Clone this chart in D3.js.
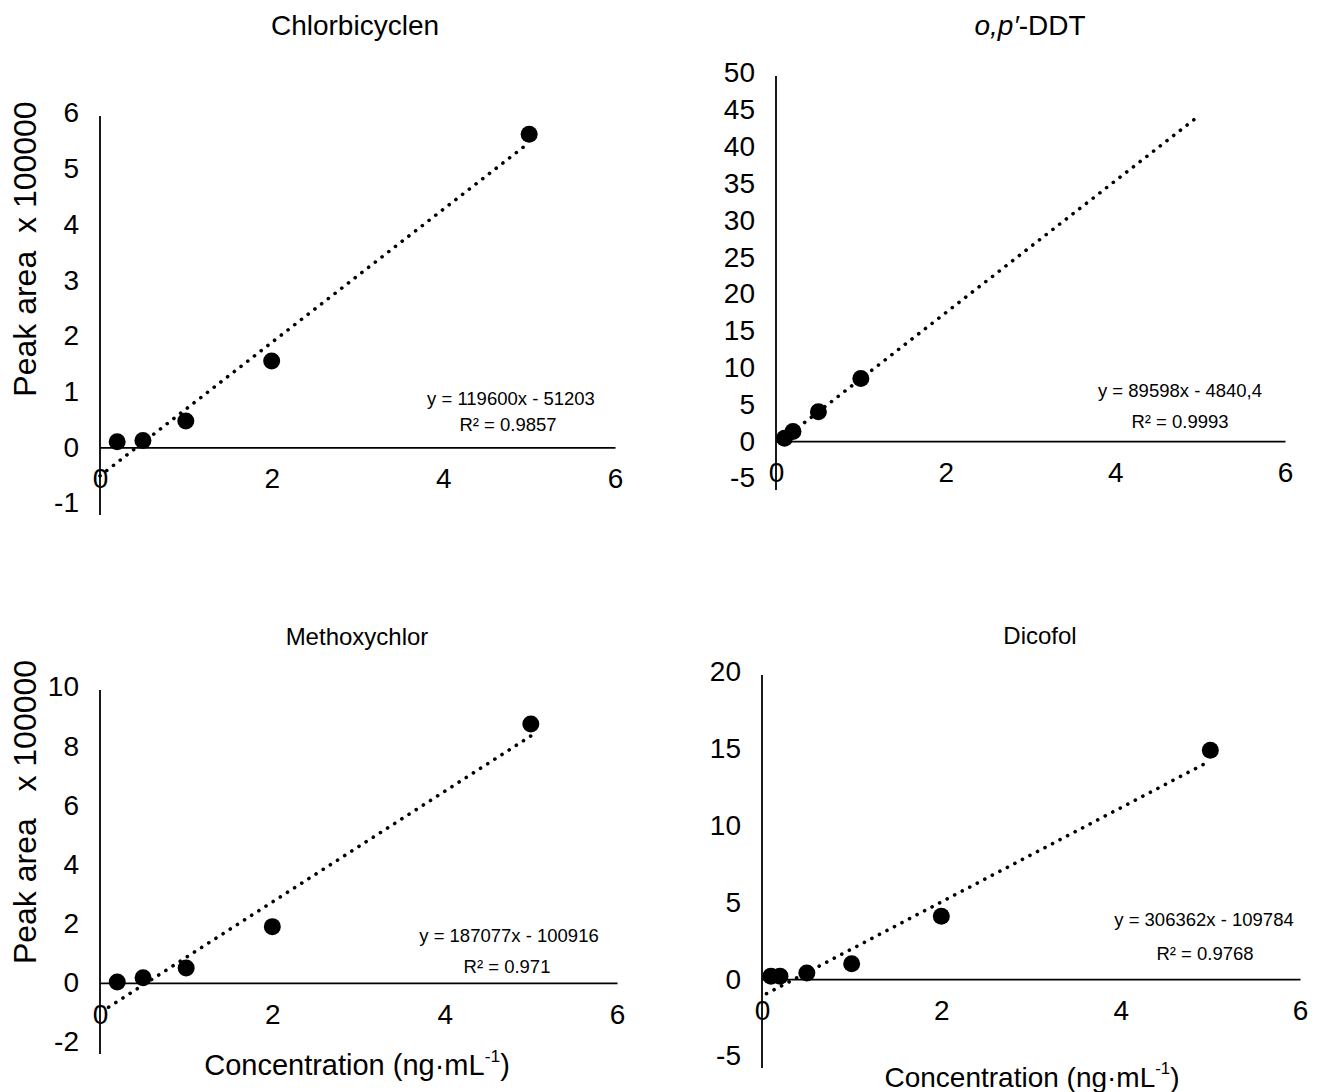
<!DOCTYPE html>
<html>
<head>
<meta charset="utf-8">
<script src="https://cdn.jsdelivr.net/npm/d3@7"></script>
<style>
  body { margin: 0; background: #fff; }
  svg text { font-family: "Liberation Sans", Arial, sans-serif; fill: #000; }
</style>
</head>
<body>
<svg id="chart" width="1325" height="1092"></svg>
<script>
// Calibration data: concentration (ng·mL-1) vs. peak area (in the panel's display units)
const titles = ["Chlorbicyclen", "o,p′-DDT", "Methoxychlor", "Dicofol"];

const concChlorbicyclen = [0.2, 0.5, 1, 2, 5];
const areaChlorbicyclen = [0.1, 0.12, 0.47, 1.55, 5.62];

const concDDT = [0.1, 0.2, 0.5, 1];
const areaDDT = [0.4, 1.3, 4.0, 8.5];

const concMethoxychlor = [0.2, 0.5, 1, 2, 5];
const areaMethoxychlor = [0.03, 0.17, 0.5, 1.9, 8.75];

const concDicofol = [0.1, 0.2, 0.5, 1, 2, 5];
const areaDicofol = [0.2, 0.2, 0.4, 1.0, 4.1, 14.9];

// Linear fits as reported on each panel (raw peak area units)
const slopes = [119600, 89598, 187077, 306362];
const intercepts = [-51203, -4840.4, -100916, -109784];
const areaUnits = [1e5, 1e4, 1e5, 1e5];
const equationLabels = ["y = 119600x - 51203", "y = 89598x - 4840,4", "y = 187077x - 100916", "y = 306362x - 109784"];
const r2Labels = ["R² = 0.9857", "R² = 0.9993", "R² = 0.971", "R² = 0.9768"];
const trendStart = [0, 0.1, 0.1, 0.05];
const trendEnd = [5, 5, 5, 5];

// Axis ticks
const xTicks = [0, 2, 4, 6];
const yTicksChlorbicyclen = [-1, 0, 1, 2, 3, 4, 5, 6];
const yTicksDDT = [-5, 0, 5, 10, 15, 20, 25, 30, 35, 40, 45, 50];
const yTicksMethoxychlor = [-2, 0, 2, 4, 6, 8, 10];
const yTicksDicofol = [-5, 0, 5, 10, 15, 20];

const concs = [concChlorbicyclen, concDDT, concMethoxychlor, concDicofol];
const areas = [areaChlorbicyclen, areaDDT, areaMethoxychlor, areaDicofol];
const yTickSets = [yTicksChlorbicyclen, yTicksDDT, yTicksMethoxychlor, yTicksDicofol];

// Panel geometry (pixels)
const panels = [
  { xr: [100, 615], yr: [503, 113], title: [355, 25], titleSize: 28, eq: [511, 399], r2: [508, 425], yLabel: [25, 249], xLabel: null },
  { xr: [776, 1285], yr: [478, 73], title: [1030, 25], titleSize: 28, eq: [1180, 391], r2: [1180, 422], yLabel: null, xLabel: null },
  { xr: [100, 617], yr: [1042, 687], title: [357, 637], titleSize: 24, eq: [509, 936], r2: [507, 967], yLabel: [25, 812], xLabel: [357, 1065], xLabelSize: 29 },
  { xr: [762, 1300], yr: [1056, 672], title: [1040, 636], titleSize: 24, eq: [1204, 920], r2: [1205, 954], yLabel: null, xLabel: [1032, 1077], xLabelSize: 28 }
];
const yLabelTexts = ["Peak area  x 100000", null, "Peak area   x 100000", null];

const svg = d3.select("#chart");
const plain = d => String(d);

panels.forEach((p, i) => {
  const ticks = yTickSets[i];
  const x = d3.scaleLinear().domain([0, 6]).range(p.xr);
  const y = d3.scaleLinear().domain([d3.min(ticks), d3.max(ticks)]).range(p.yr);
  const g = svg.append("g");

  // Vertical axis (its line runs a little past the lowest tick)
  const yAxis = g.append("g")
    .attr("transform", `translate(${x(0)},0)`)
    .call(d3.axisLeft(y).tickValues(ticks).tickSize(0).tickPadding(21).tickFormat(plain));
  yAxis.select(".domain").attr("stroke", "#000").attr("stroke-width", 1.8)
    .attr("d", `M0,${y(d3.max(ticks)) + 3}V${y(d3.min(ticks)) + 12}`);
  yAxis.selectAll("text").attr("font-size", 28).attr("font-family", "Liberation Sans, Arial, sans-serif");

  // Horizontal axis crossing at zero
  const xAxis = g.append("g")
    .attr("transform", `translate(0,${y(0)})`)
    .call(d3.axisBottom(x).tickValues(xTicks).tickSize(0).tickPadding(21).tickFormat(plain));
  xAxis.select(".domain").attr("stroke", "#000").attr("stroke-width", 1.8);
  xAxis.selectAll("text").attr("font-size", 28).attr("font-family", "Liberation Sans, Arial, sans-serif");

  // Dotted linear trendline from the reported fit
  const fit = c => (slopes[i] * c + intercepts[i]) / areaUnits[i];
  g.append("line")
    .attr("x1", x(trendStart[i])).attr("y1", y(fit(trendStart[i])))
    .attr("x2", x(trendEnd[i])).attr("y2", y(fit(trendEnd[i])))
    .attr("stroke", "#000").attr("stroke-width", 3.6)
    .attr("stroke-linecap", "round")
    .attr("stroke-dasharray", "0.1,8.4");

  // Data points
  g.selectAll("circle.pt")
    .data(concs[i].map((c, k) => [c, areas[i][k]]))
    .join("circle")
    .attr("class", "pt")
    .attr("cx", d => x(d[0])).attr("cy", d => y(d[1]))
    .attr("r", 8.5).attr("fill", "#000");

  // Title
  const t = g.append("text")
    .attr("x", p.title[0]).attr("y", p.title[1]).attr("dy", "0.35em")
    .attr("text-anchor", "middle").attr("font-size", p.titleSize);
  if (i === 1) {
    t.append("tspan").attr("font-style", "italic").text("o,p′");
    t.append("tspan").text("-DDT");
  } else {
    t.text(titles[i]);
  }

  // Fit equation and R²
  g.append("text").attr("x", p.eq[0]).attr("y", p.eq[1]).attr("dy", "0.35em")
    .attr("text-anchor", "middle").attr("font-size", 18.5).text(equationLabels[i]);
  g.append("text").attr("x", p.r2[0]).attr("y", p.r2[1]).attr("dy", "0.35em")
    .attr("text-anchor", "middle").attr("font-size", 18.5).text(r2Labels[i]);

  // Axis titles
  if (p.yLabel) {
    g.append("text")
      .attr("transform", `translate(${p.yLabel[0]},${p.yLabel[1]}) rotate(-90)`)
      .attr("dy", "0.35em").attr("text-anchor", "middle").attr("font-size", 32)
      .attr("xml:space", "preserve").style("white-space", "pre")
      .text(yLabelTexts[i]);
  }
  if (p.xLabel) {
    const xl = g.append("text")
      .attr("x", p.xLabel[0]).attr("y", p.xLabel[1]).attr("dy", "0.35em")
      .attr("text-anchor", "middle").attr("font-size", p.xLabelSize);
    xl.append("tspan").text("Concentration (ng·mL");
    xl.append("tspan").attr("font-size", p.xLabelSize * 0.6).attr("dy", "-0.75em").text("-1");
    xl.append("tspan").attr("dy", "0.45em").text(")");
  }
});
</script>
</body>
</html>
